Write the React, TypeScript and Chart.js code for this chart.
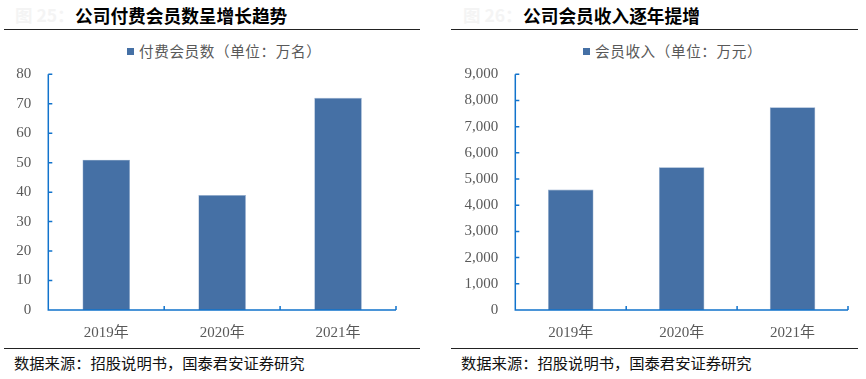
import React, { useEffect, useRef } from 'react';
import { Chart, registerables } from 'chart.js';
Chart.register(...registerables);

const years = ['2019年', '2020年', '2021年'];
const paidMembers = [51, 39, 72]; // 万名
const memberRevenue = [4600, 5450, 7740]; // 万元
const paidMax = 80;
const paidStep = 10;
const revMax = 9000;
const revStep = 1000;

const AXIS = '#1173cc';
const BAR = '#4570a5';
const TICK_FONT = "'Liberation Serif', 'Times New Roman', 'Noto Sans CJK SC', serif";
const CJK = "'Noto Sans CJK SC', sans-serif";

const innerTicks = {
  id: 'innerTicks',
  afterDatasetsDraw(chart: any) {
    const ctx = chart.ctx;
    const x = chart.scales.x;
    const y = chart.scales.y;
    ctx.save();
    ctx.strokeStyle = AXIS;
    ctx.lineWidth = 1.5;
    ctx.beginPath();
    ctx.moveTo(x.left, y.top);
    ctx.lineTo(x.left, y.bottom);
    ctx.lineTo(x.right, y.bottom);
    y.ticks.forEach((t: any) => {
      const py = y.getPixelForValue(t.value);
      ctx.moveTo(x.left, py);
      ctx.lineTo(x.left + 4, py);
    });
    for (let i = 0; i <= x.ticks.length; i++) {
      const px = x.getPixelForValue(i - 0.5);
      ctx.moveTo(px, y.bottom);
      ctx.lineTo(px, y.bottom - 4);
    }
    ctx.stroke();
    ctx.restore();
  },
};

type BarProps = {
  left: number;
  labels: string[];
  values: number[];
  max: number;
  step: number;
  yWidth: number;
  padRight: number;
  name: string;
};

function BarChart({ left, labels, values, max, step, yWidth, padRight, name }: BarProps) {
  const ref = useRef<HTMLCanvasElement>(null);
  useEffect(() => {
    if (!ref.current) return;
    const chart = new Chart(ref.current, {
      type: 'bar',
      data: {
        labels,
        datasets: [
          {
            label: name,
            data: values,
            backgroundColor: BAR,
            borderColor: '#8fa9cc',
            borderWidth: 0.6,
            barPercentage: 0.41,
            categoryPercentage: 1,
          },
        ],
      },
      options: {
        responsive: false,
        animation: false,
        layout: { padding: { top: 14.3, right: padRight, bottom: 0, left: 0 } },
        plugins: { legend: { display: false }, tooltip: { enabled: false } },
        scales: {
          x: {
            grid: { display: false, drawTicks: false },
            border: { display: false },
            ticks: { color: '#595959', font: { family: TICK_FONT, size: 15 }, padding: 14 },
            afterFit: (s: any) => {
              s.height = 40;
            },
          },
          y: {
            min: 0,
            max,
            grid: { display: false, drawTicks: true, tickLength: 14 },
            border: { display: false },
            ticks: {
              stepSize: step,
              color: '#595959',
              font: { family: TICK_FONT, size: 15 },
              padding: 3,
              callback: (v: any) => Number(v).toLocaleString('en-US'),
            },
            afterFit: (s: any) => {
              s.width = yWidth;
            },
          },
        },
      },
      plugins: [innerTicks],
    });
    return () => chart.destroy();
  }, []);
  return (
    <canvas
      ref={ref}
      width={433}
      height={290}
      style={{ position: 'absolute', left, top: 60, width: 433, height: 290 }}
    />
  );
}

const abs = (o: any) => ({ position: 'absolute' as const, whiteSpace: 'nowrap' as const, ...o });

function Panel({ x, fig, title, titleLeft, legendLeft, legend, lineLeft, lineWidth, footLeft }: any) {
  return (
    <>
      <div style={abs({ left: x + (titleLeft - 60), top: 3, height: 24, lineHeight: '24px', fontFamily: CJK, fontSize: 17.5, fontWeight: 700, color: '#f4f4f4' })}>{fig}</div>
      <div style={abs({ left: x + titleLeft, top: 3, height: 24, lineHeight: '24px', fontFamily: CJK, fontSize: 17.7, fontWeight: 700, color: '#000' })}>{title}</div>
      <div style={abs({ left: lineLeft, top: 28.5, width: lineWidth, height: 1.5, background: '#222' })} />
      <div style={abs({ left: x + legendLeft, top: 47.5, width: 7, height: 7, background: BAR })} />
      <div style={abs({ left: x + legendLeft + 12, top: 41, height: 20, lineHeight: '20px', fontFamily: CJK, fontSize: 14.6, letterSpacing: 0.6, color: '#595959' })}>{legend}</div>
      <div style={abs({ left: lineLeft, top: 347.5, width: lineWidth, height: 1.5, background: '#222' })} />
      <div style={abs({ left: x + footLeft, top: 351, height: 22, lineHeight: '22px', fontFamily: CJK, fontSize: 15.3, color: '#111' })}>数据来源：招股说明书，国泰君安证券研究</div>
    </>
  );
}

export default function App() {
  return (
    <div style={{ position: 'fixed', left: 0, top: 0, width: 866, height: 379, background: '#fff', overflow: 'hidden' }}>
      <Panel x={0} fig="图 25：" title="公司付费会员数呈增长趋势" titleLeft={75} legendLeft={127} legend="付费会员数（单位：万名）" lineLeft={4} lineWidth={416} footLeft={14} />
      <Panel x={433} fig="图 26：" title="公司会员收入逐年提增" titleLeft={90} legendLeft={150} legend="会员收入（单位：万元）" lineLeft={451} lineWidth={407} footLeft={28} />
      <BarChart left={0} labels={years} values={paidMembers} max={paidMax} step={paidStep} yWidth={48.3} padRight={37} name="付费会员数（单位：万名）" />
      <BarChart left={433} labels={years} values={memberRevenue} max={revMax} step={revStep} yWidth={82.3} padRight={18} name="会员收入（单位：万元）" />
    </div>
  );
}
